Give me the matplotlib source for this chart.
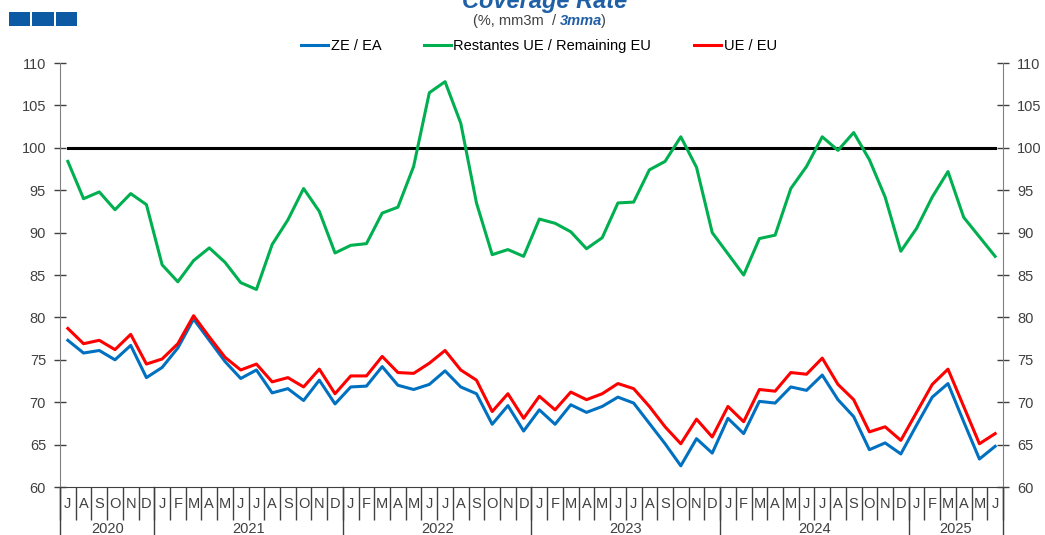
import matplotlib
matplotlib.use('Agg')
import matplotlib.pyplot as plt
import matplotlib.transforms as mtransforms
from matplotlib.patches import Rectangle

plt.rcParams['font.family'] = ['Liberation Sans', 'DejaVu Sans']

# monthly, Jul 2020 - Jun 2025 (3 month moving average)
months = ['J', 'A', 'S', 'O', 'N', 'D'] + ['J', 'F', 'M', 'A', 'M', 'J', 'J', 'A', 'S', 'O', 'N', 'D'] * 4 + ['J', 'F', 'M', 'A', 'M', 'J']
years = ['2020', '2021', '2022', '2023', '2024', '2025']
months_per_year = [6, 12, 12, 12, 12, 6]

ze_ea = [77.3, 75.8, 76.1, 75.0, 76.7, 72.9, 74.1, 76.4, 79.8, 77.3, 74.8, 72.8,
         73.8, 71.1, 71.6, 70.2, 72.6, 69.8, 71.8, 71.9, 74.2, 72.0, 71.5, 72.1,
         73.7, 71.8, 71.0, 67.4, 69.6, 66.6, 69.1, 67.4, 69.7, 68.8, 69.5, 70.6,
         69.9, 67.5, 65.1, 62.5, 65.7, 64.0, 68.1, 66.3, 70.1, 69.9, 71.8, 71.4,
         73.2, 70.3, 68.3, 64.4, 65.2, 63.9, 67.3, 70.6, 72.2, 67.7, 63.3, 64.8]
rest_ue = [98.4, 94.0, 94.8, 92.7, 94.6, 93.3, 86.2, 84.2, 86.7, 88.2, 86.5, 84.1,
           83.3, 88.6, 91.5, 95.2, 92.5, 87.6, 88.5, 88.7, 92.3, 93.0, 97.8, 106.5,
           107.8, 102.9, 93.5, 87.4, 88.0, 87.2, 91.6, 91.1, 90.1, 88.1, 89.4, 93.5,
           93.6, 97.4, 98.4, 101.3, 97.7, 90.0, 87.5, 85.0, 89.3, 89.7, 95.2, 97.8,
           101.3, 99.7, 101.8, 98.6, 94.2, 87.8, 90.5, 94.2, 97.2, 91.8, 89.5, 87.2]
ue = [78.7, 76.9, 77.3, 76.2, 78.0, 74.5, 75.1, 76.9, 80.2, 77.7, 75.3, 73.8,
      74.5, 72.4, 72.9, 71.8, 73.9, 71.0, 73.1, 73.1, 75.4, 73.5, 73.4, 74.6,
      76.1, 73.8, 72.6, 68.9, 71.0, 68.1, 70.7, 69.1, 71.2, 70.3, 71.0, 72.2,
      71.6, 69.5, 67.1, 65.1, 68.0, 65.9, 69.5, 67.7, 71.5, 71.3, 73.5, 73.3,
      75.2, 72.1, 70.3, 66.5, 67.1, 65.5, 68.8, 72.1, 73.9, 69.5, 65.1, 66.3]

n = len(months)
x = list(range(n))

fig = plt.figure(figsize=(10.45, 5.35), dpi=100)
ax = fig.add_axes([0.0574, 0.0897, 0.9024, 0.7925])

ax.plot(x, [100] * n, color='black', lw=2.2, zorder=2)
l1, = ax.plot(x, ze_ea, color='#0070C0', lw=2.2, label='ZE / EA', zorder=3)
l2, = ax.plot(x, rest_ue, color='#00B050', lw=2.2, label='Restantes UE / Remaining EU', zorder=3)
l3, = ax.plot(x, ue, color='#FF0000', lw=2.2, label='UE / EU', zorder=4)

ax.set_xlim(-0.5, n - 0.5)
ax.set_ylim(60, 110)
ax.set_yticks(range(60, 111, 5))
ax.tick_params(axis='y', which='major', direction='inout', length=8, width=1, color='#404040',
               left=True, right=True, labelleft=True, labelright=True, labelsize=10.5,
               labelcolor='#404040', pad=6)

# month separators and labels
ax.set_xticks([i - 0.5 for i in range(n + 1)])
ax.set_xticklabels([])
ax.tick_params(axis='x', which='major', direction='out', length=24, width=1, color='#404040')
ax.set_xticks(x, minor=True)
ax.set_xticklabels(months, minor=True)
ax.tick_params(axis='x', which='minor', length=0, labelsize=10.5, labelcolor='#404040', pad=7)

ax.spines['top'].set_visible(False)
ax.spines['left'].set_color('#808080')
ax.spines['right'].set_color('#808080')
ax.spines['bottom'].set_color('#404040')

# year separators and labels
trans = mtransforms.blended_transform_factory(ax.transData, ax.transAxes)
start = -0.5
for yr, cnt in zip(years, months_per_year):
    ax.plot([start, start], [0, -0.12], transform=trans, color='#404040', lw=1, clip_on=False)
    ax.text(start + cnt / 2, -0.1, yr, transform=trans, ha='center', va='center',
            fontsize=10.5, color='#404040')
    start += cnt
ax.plot([start, start], [0, -0.12], transform=trans, color='#404040', lw=1, clip_on=False)

# header (title is cut at the top edge, as in the original)
fig.text(0.5215, 0.985, 'Coverage Rate', ha='center', va='baseline', fontsize=17,
         fontweight='bold', fontstyle='italic', color='#1F5FA6')
t1 = fig.text(0.4526, 0.961, '(%, mm3m  / ', ha='left', va='center', fontsize=10.5, color='#404040')
a2 = ax.annotate('3mma', xy=(1, 0), xycoords=t1, ha='left', va='bottom', fontsize=10.5,
                 fontweight='bold', fontstyle='italic', color='#1F5FA6', annotation_clip=False)
ax.annotate(')', xy=(1, 0), xycoords=a2, xytext=(-0.8, 0), textcoords='offset points',
            ha='left', va='bottom', fontsize=10.5, color='#404040', annotation_clip=False)

for i in range(3):
    fig.patches.append(Rectangle((0.0086 + i * 0.0225, 0.951), 0.0205, 0.026, transform=fig.transFigure,
                                 facecolor='#0B5AA3', edgecolor='none'))

fig.legend(handles=[l1, l2, l3], loc='center', bbox_to_anchor=(0.5155, 0.914), ncol=3, frameon=False,
           fontsize=10.5, handlelength=1.9, columnspacing=2.9, handletextpad=0.15)

fig.savefig('out.png', dpi=100)
